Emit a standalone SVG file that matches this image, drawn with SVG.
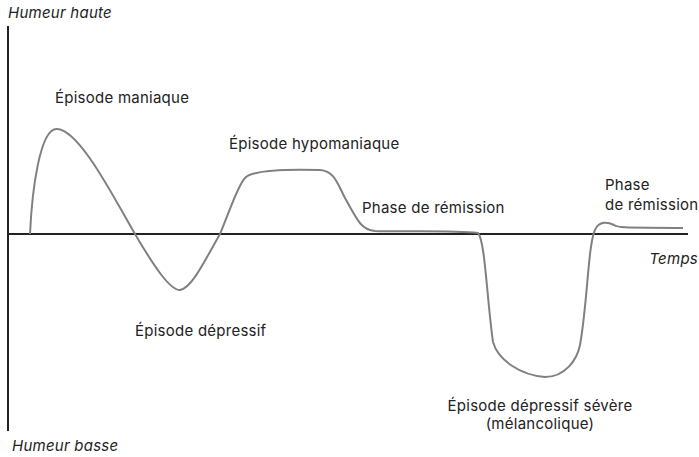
<svg xmlns="http://www.w3.org/2000/svg" width="699" height="457" viewBox="0 0 699 457">
<style>
.t{font-family:Inter,"Noto Sans","Liberation Sans",sans-serif;font-size:15px;letter-spacing:0.25px;fill:#222}
.i{font-style:italic}
.axis{stroke:#222;stroke-width:2;fill:none}
.curve{stroke:#808080;stroke-width:2;fill:none;stroke-linejoin:round}
</style>
<rect width="699" height="457" fill="#fff"/>
<g id="axes">
<line class="axis" x1="8" y1="26" x2="8" y2="431"/>
<line class="axis" x1="7" y1="234" x2="688" y2="234"/>
</g>
<g id="connectors">
<path class="curve" d="M30,234 C32,190 40,128 57,129 C80,130 115,200 135,234 C155,268 170,290 180,290 C192,288 205,260 220,234 C230,210 238,185 245,178 C252,170 285,169 320,170 C335,171 338,185 345,198 C358,222 362,230 375,231 C400,232 450,230 478,233 C485,240 487,300 493,342 C498,360 520,375 545,377 C565,377 577,360 580,345 C588,300 588,240 596,228 C600,221 608,222 614,225 C620,229 640,227 683,228"/>
</g>
<g id="labels">
<text class="t i" x="8" y="18">Humeur haute</text>
<text class="t i" x="12" y="451">Humeur basse</text>
<text class="t i" x="698" y="264" text-anchor="end">Temps</text>
<text class="t" x="55" y="103">Épisode maniaque</text>
<text class="t" x="229" y="149">Épisode hypomaniaque</text>
<text class="t" x="362" y="213">Phase de rémission</text>
<text class="t" x="605" y="190">Phase</text>
<text class="t" x="605" y="210">de rémission</text>
<text class="t" x="135" y="336">Épisode dépressif</text>
<text class="t" x="540" y="411" text-anchor="middle">Épisode dépressif sévère</text>
<text class="t" x="540" y="429" text-anchor="middle">(mélancolique)</text>
</g>
</svg>
